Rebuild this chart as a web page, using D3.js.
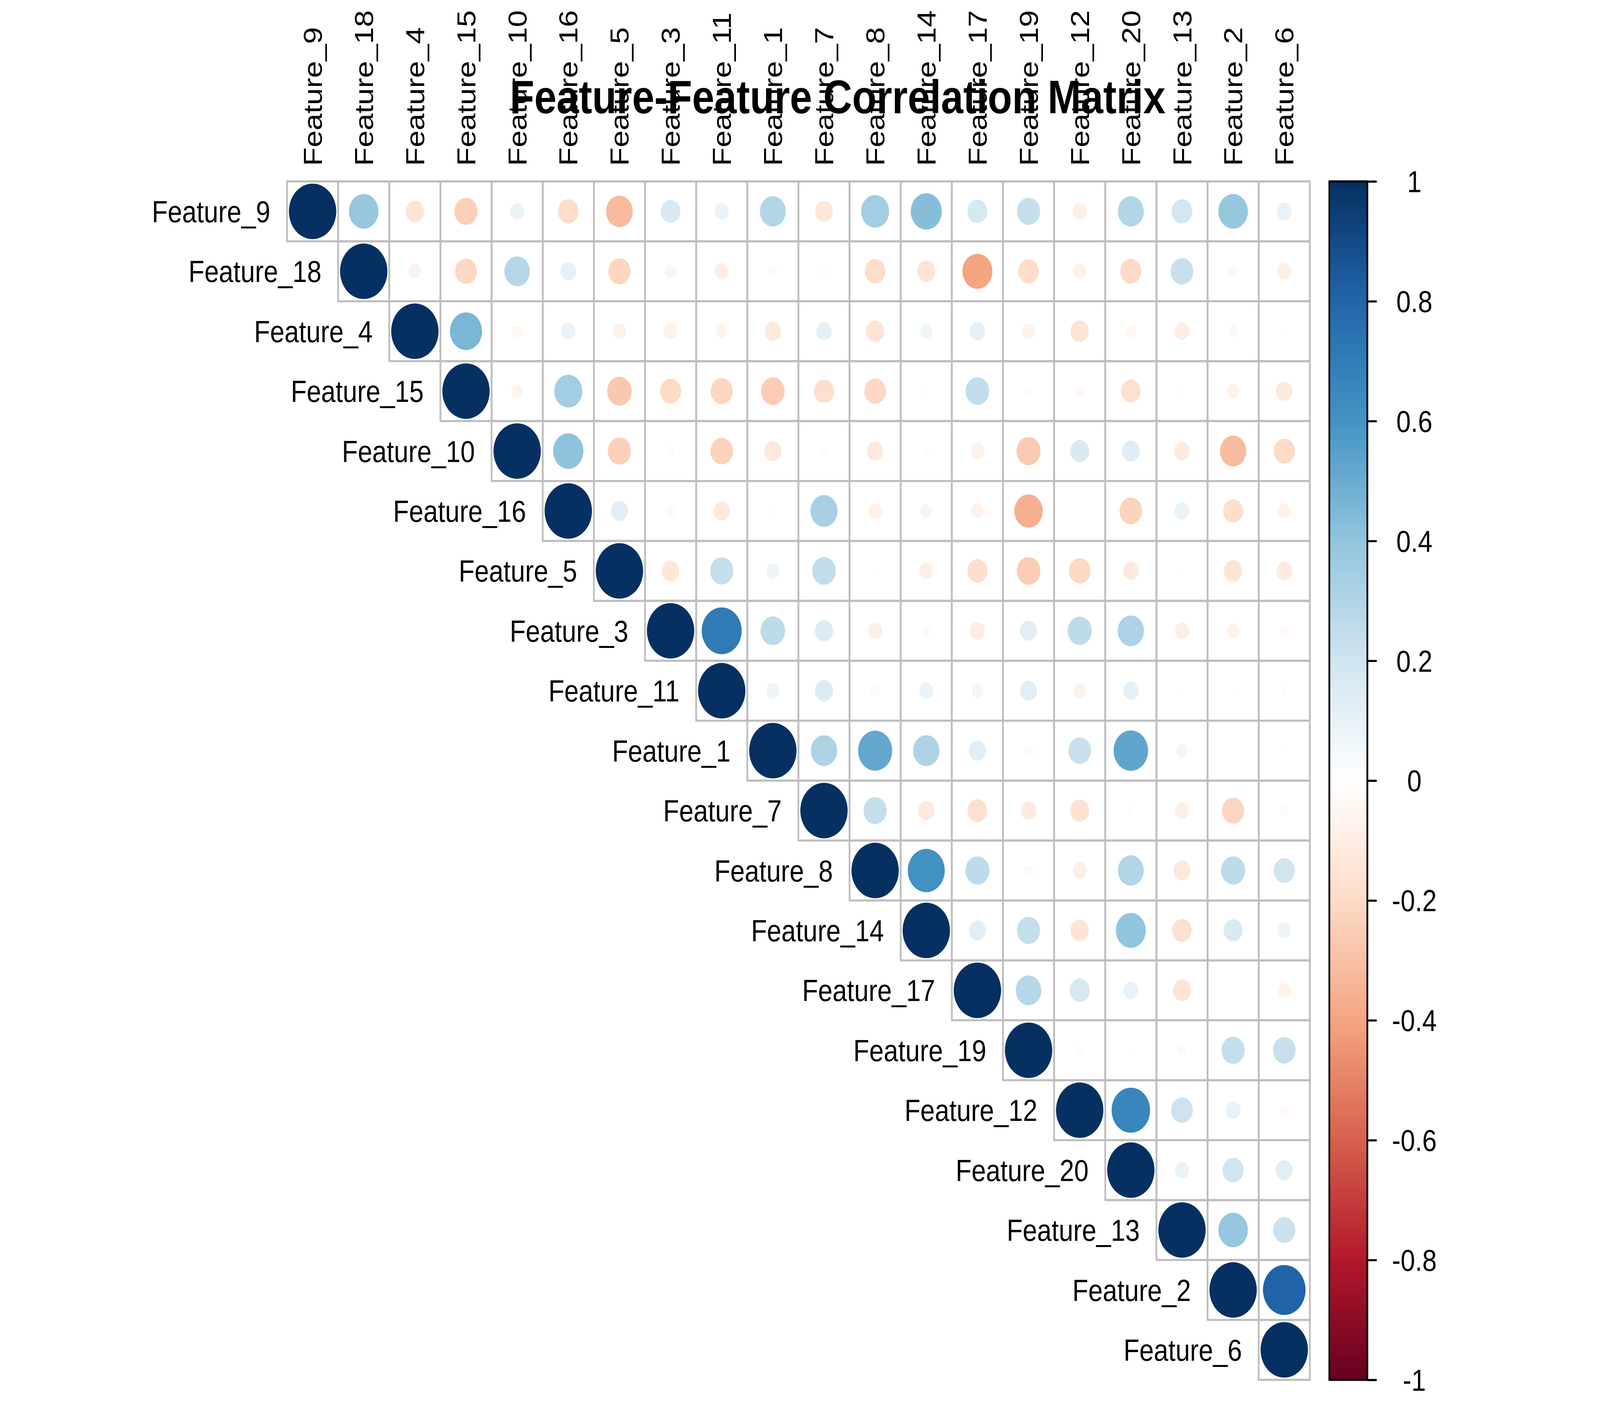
<!DOCTYPE html>
<html>
<head>
<meta charset="utf-8">
<script src="https://cdn.jsdelivr.net/npm/d3@7"></script>
<style>
  html, body { margin: 0; padding: 0; background: #ffffff; overflow: hidden; width: 100%; height: 100%; }
  svg { display: block; width: 100vw; height: 100vh; }
  text { font-family: "Liberation Sans", Arial, "DejaVu Sans", sans-serif; fill: #000; }
</style>
</head>
<body>
<svg id="chart" viewBox="0 0 4800 3600" preserveAspectRatio="none"></svg>
<script>
// ---------------- DATA ----------------
const features = ["Feature_9","Feature_18","Feature_4","Feature_15","Feature_10","Feature_16","Feature_5","Feature_3","Feature_11","Feature_1","Feature_7","Feature_8","Feature_14","Feature_17","Feature_19","Feature_12","Feature_20","Feature_13","Feature_2","Feature_6"];

// upper-triangle correlations, each row lists the columns to the right of the diagonal
const row_Feature_9  = [0.39,-0.15,-0.24,0.09,-0.19,-0.32,0.17,0.09,0.30,-0.14,0.35,0.43,0.18,0.24,-0.09,0.30,0.19,0.39,0.10];
const row_Feature_18 = [-0.07,-0.21,0.29,0.11,-0.22,-0.06,-0.09,0.03,-0.02,-0.19,-0.15,-0.40,-0.19,-0.08,-0.20,0.23,0.04,-0.09];
const row_Feature_4  = [0.46,-0.05,0.09,-0.08,-0.08,-0.06,-0.12,0.11,-0.15,0.07,0.11,-0.07,-0.15,-0.05,-0.10,0.04,-0.01];
const row_Feature_15 = [-0.06,0.35,-0.27,-0.20,-0.22,-0.25,-0.18,-0.21,-0.01,0.25,-0.03,-0.04,-0.17,-0.01,-0.07,-0.12];
const row_Feature_10 = [0.41,-0.24,-0.03,-0.23,-0.13,0.02,-0.12,0.02,-0.08,-0.26,0.16,0.14,-0.11,-0.31,-0.20];
const row_Feature_16 = [0.13,-0.04,-0.12,-0.01,0.33,-0.08,-0.06,-0.07,-0.36,0.005,-0.23,0.10,-0.18,-0.07];
const row_Feature_5  = [-0.14,0.24,0.08,0.25,0.005,-0.09,-0.18,-0.25,-0.21,-0.11,-0.005,-0.15,-0.11];
const row_Feature_3  = [0.71,0.27,0.15,-0.09,0.03,-0.10,0.13,0.26,0.31,-0.09,-0.07,-0.04];
const row_Feature_11 = [0.08,0.15,-0.04,0.09,0.06,0.13,-0.07,0.11,0.01,-0.01,-0.02];
const row_Feature_1  = [0.31,0.52,0.31,0.13,-0.04,0.23,0.53,0.06,0.0,-0.01];
const row_Feature_7  = [0.24,-0.12,-0.17,-0.11,-0.16,-0.02,-0.09,-0.22,-0.03];
const row_Feature_8  = [0.61,0.26,0.04,-0.09,0.30,-0.13,0.26,0.20];
const row_Feature_14 = [0.13,0.24,-0.15,0.40,-0.17,0.16,0.08];
const row_Feature_17 = [0.29,0.18,0.10,-0.15,0.003,-0.07];
const row_Feature_19 = [0.02,0.01,0.03,0.24,0.23];
const row_Feature_12 = [0.66,0.21,0.10,-0.04];
const row_Feature_20 = [0.09,0.20,0.13];
const row_Feature_13 = [0.39,0.22];
const row_Feature_2  = [0.81];
const row_Feature_6  = [];

const upperRows = [row_Feature_9,row_Feature_18,row_Feature_4,row_Feature_15,row_Feature_10,row_Feature_16,row_Feature_5,row_Feature_3,row_Feature_11,row_Feature_1,row_Feature_7,row_Feature_8,row_Feature_14,row_Feature_17,row_Feature_19,row_Feature_12,row_Feature_20,row_Feature_13,row_Feature_2,row_Feature_6];

const legendTicks = [1,0.8,0.6,0.4,0.2,0,-0.2,-0.4,-0.6,-0.8,-1];
const legendTickLabels = ["1","0.8","0.6","0.4","0.2","0","-0.2","-0.4","-0.6","-0.8","-1"];
const paletteStops = ["#67001F","#B2182B","#D6604D","#F4A582","#FDDBC7","#FFFFFF","#D1E5F0","#92C5DE","#4393C3","#2166AC","#053061"];
const titleText = "Feature-Feature Correlation Matrix";

// ---------------- BUILD ----------------
const cells = [];
upperRows.forEach((vals, i) => {
  cells.push({row: features[i], col: features[i], value: 1});
  vals.forEach((v, k) => cells.push({row: features[i], col: features[i + 1 + k], value: v}));
});

const svg = d3.select("#chart");
svg.append("rect").attr("x", 0).attr("y", 0).attr("width", 4800).attr("height", 3600).attr("fill", "#fff");

const gridLeft = 861, gridTop = 464.5, gridSize = 3068.5;

const x = d3.scaleBand().domain(features).range([gridLeft, gridLeft + gridSize]);
const y = d3.scaleBand().domain(features).range([gridTop, gridTop + gridSize]);
const cell = x.bandwidth();

const color = d3.scaleLinear()
  .domain(d3.range(11).map(i => -1 + i * 0.2))
  .range(paletteStops)
  .interpolate(d3.interpolateRgb)
  .clamp(true);

const size = d3.scaleSqrt().domain([0, 1]).range([0, cell * 0.463]);

// cell borders
svg.append("g")
  .selectAll("rect")
  .data(cells)
  .join("rect")
  .attr("x", d => x(d.col))
  .attr("y", d => y(d.row))
  .attr("width", cell)
  .attr("height", cell)
  .attr("fill", "none")
  .attr("stroke", "#BEBEBE")
  .attr("stroke-width", 5.3)
  .attr("stroke-linejoin", "round");

// circles
svg.append("g")
  .selectAll("circle")
  .data(cells)
  .join("circle")
  .attr("cx", d => x(d.col) + cell / 2)
  .attr("cy", d => y(d.row) + cell / 2)
  .attr("r", d => size(Math.abs(d.value)))
  .attr("fill", d => color(d.value));

// row labels
const fs = 78;
svg.append("g")
  .selectAll("text")
  .data(features)
  .join("text")
  .attr("x", d => x(d) - 50)
  .attr("y", d => y(d) + cell / 2)
  .attr("dy", "0.355em")
  .attr("text-anchor", "end")
  .attr("font-size", fs)
  .text(d => d);

// column labels (rotated)
svg.append("g")
  .selectAll("text")
  .data(features)
  .join("text")
  .attr("transform", d => `translate(${x(d) + cell / 2},425) rotate(-90)`)
  .attr("dy", "0.355em")
  .attr("text-anchor", "start")
  .attr("font-size", fs)
  .text(d => d);

// colour legend
const barLeft = 3988, barRight = 4102;
const ly = d3.scaleLinear().domain([-1, 1]).range([gridTop + gridSize, gridTop]);
const nBins = 200;
const bins = d3.range(nBins).map(i => -1 + (i + 0.5) * 2 / nBins);
const legend = svg.append("g");
legend.selectAll("rect.bin")
  .data(bins)
  .join("rect")
  .attr("class", "bin")
  .attr("x", barLeft)
  .attr("width", barRight - barLeft)
  .attr("y", d => ly(d + 1 / nBins))
  .attr("height", Math.abs(ly(0) - ly(2 / nBins)) + 0.8)
  .attr("fill", d => color(d));
legend.append("rect")
  .attr("x", barLeft)
  .attr("y", ly(1))
  .attr("width", barRight - barLeft)
  .attr("height", ly(-1) - ly(1))
  .attr("fill", "none")
  .attr("stroke", "#000")
  .attr("stroke-width", 5.3)
  .attr("stroke-linejoin", "round");

const axis = d3.axisRight(ly).tickValues(legendTicks).tickSize(26).tickFormat(() => "");
const axG = legend.append("g").attr("transform", `translate(${barRight},0)`).call(axis);
axG.select(".domain").remove();
axG.selectAll(".tick line").attr("stroke", "#000").attr("stroke-width", 5.3).attr("stroke-linecap", "round");

legend.selectAll("text.tl")
  .data(legendTicks)
  .join("text")
  .attr("class", "tl")
  .attr("x", 4243)
  .attr("y", d => ly(d))
  .attr("dy", "0.355em")
  .attr("text-anchor", "middle")
  .attr("font-size", fs)
  .text((d, i) => legendTickLabels[i]);

// title
svg.append("text")
  .attr("x", 2513)
  .attr("y", 290)
  .attr("text-anchor", "middle")
  .attr("font-size", 120)
  .attr("font-weight", "bold")
  .text(titleText);
</script>
</body>
</html>
